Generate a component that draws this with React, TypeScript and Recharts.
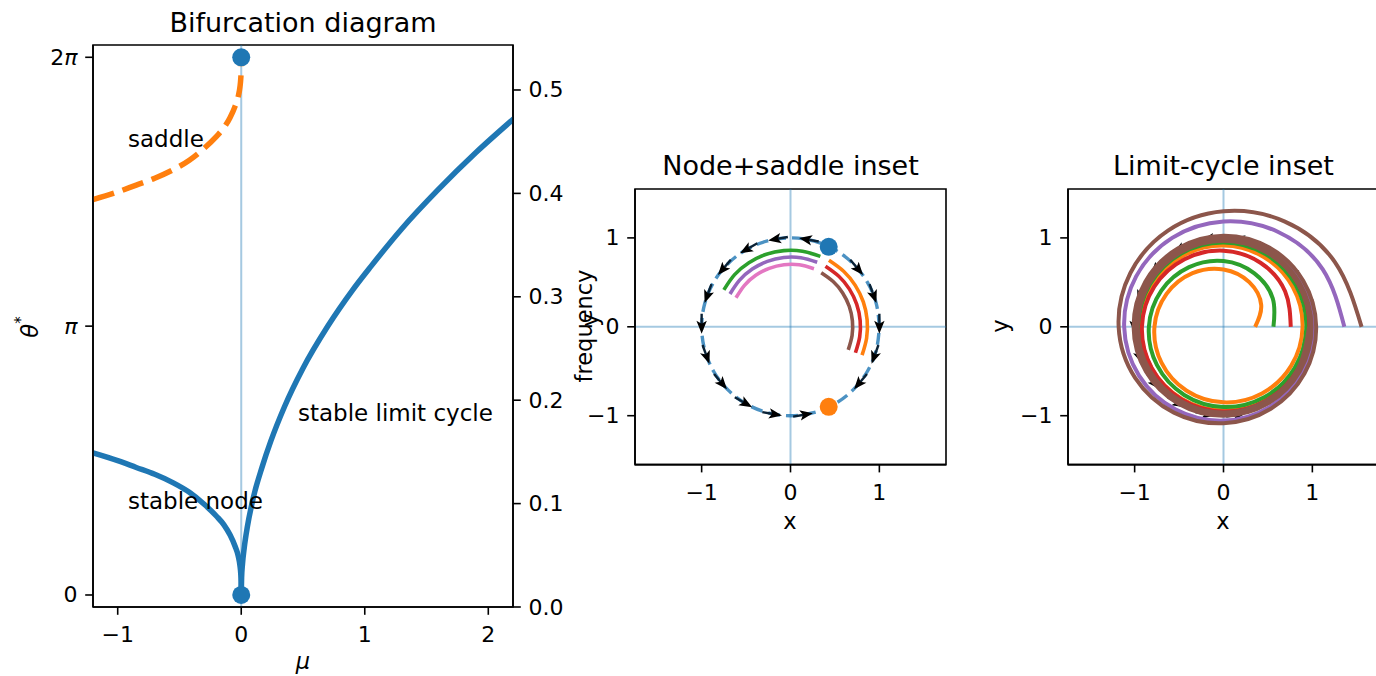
import React from 'react';
import { ComposedChart, Line, Scatter, XAxis, YAxis, ReferenceArea } from 'recharts';

const FONT = '"DejaVu Sans", Verdana, sans-serif';
const C0 = '#1f77b4';
const C1 = '#ff7f0e';
const C2 = '#2ca02c';
const C3 = '#d62728';
const C4 = '#9467bd';
const C5 = '#8c564b';
const C6 = '#e377c2';

// ---------------- Panel 1: bifurcation diagram ----------------
const muNode = [-1.2, -1.0, -0.85, -0.7, -0.55, -0.42, -0.3, -0.2, -0.14, -0.09, -0.05, -0.025, -0.01, -0.004, -0.001, 0];
const thetaNode = [1.66, 1.57, 1.49, 1.41, 1.31, 1.2, 1.06, 0.92, 0.82, 0.7, 0.57, 0.46, 0.34, 0.25, 0.16, 0];
const muSaddle = [-1.2, -1.0, -0.85, -0.7, -0.55, -0.42, -0.3, -0.2, -0.14, -0.09, -0.05, -0.025, -0.01, -0.004, -0.001, 0];
const thetaSaddle = [4.62, 4.71, 4.79, 4.87, 4.97, 5.08, 5.22, 5.36, 5.46, 5.58, 5.71, 5.82, 5.94, 6.03, 6.12, 6.28];
const muCycle = [0, 0.003, 0.01, 0.025, 0.05, 0.1, 0.17, 0.24, 0.35, 0.5, 0.7, 0.9, 1.05, 1.3, 1.59, 1.9, 2.21];
const thetaCycle = [0, 0.2, 0.36, 0.56, 0.8, 1.15, 1.5, 1.8, 2.2, 2.65, 3.14, 3.56, 3.84, 4.28, 4.73, 5.17, 5.57];
const muFixed = [0, 0];
const thetaFixed = [0, 2 * Math.PI];
const muZeroLine = [0, 0];
const thetaZeroLine = [-0.2, 6.5];

const muTicks = [-1, 0, 1, 2];
const thetaTicks = [0, Math.PI, 2 * Math.PI];
const thetaTickLabels = ['0', 'π', '2π'];
const freqTicks = [0, 0.1, 0.2, 0.3, 0.4, 0.5];

// ---------------- Panel 2: node + saddle inset (polar readings: [deg, r]) ----------------
const unitCirclePolar = [[0, 1], [15, 1], [30, 1], [45, 1], [60, 1], [75, 1], [90, 1], [105, 1], [120, 1], [135, 1], [150, 1], [165, 1], [180, 1], [195, 1], [210, 1], [225, 1], [240, 1], [255, 1], [270, 1], [285, 1], [300, 1], [315, 1], [330, 1], [345, 1], [360, 1]];
const greenArcPolar = [[67, 0.86], [81, 0.86], [95, 0.86], [109, 0.86], [123, 0.86], [137, 0.86], [151, 0.857]];
const purpleArcPolar = [[67.5, 0.785], [81.5, 0.785], [95.5, 0.783], [109.5, 0.781], [123.5, 0.779], [137.5, 0.777], [151.5, 0.775]];
const pinkArcPolar = [[68, 0.705], [82, 0.704], [96, 0.702], [110, 0.7], [124, 0.699], [138, 0.697], [152, 0.695]];
const orangeArcPolar = [[60, 0.865], [46.3, 0.865], [32.6, 0.865], [18.9, 0.866], [5.2, 0.866], [-8.5, 0.866], [-21.6, 0.866]];
const redArcPolar = [[60, 0.787], [46.3, 0.787], [32.6, 0.787], [18.9, 0.787], [5.2, 0.787], [-8.5, 0.787], [-21.8, 0.787]];
const brownArcPolar = [[60.4, 0.7], [46.7, 0.7], [33, 0.7], [19.3, 0.7], [5.6, 0.7], [-8.1, 0.7], [-21.8, 0.7]];
const fixedPtX = [0.43, 0.43];
const fixedPtY = [0.9, -0.9];
const arrowAngles = [0, 20, 40, 80, 100, 120, 140, 160, 180, 200, 220, 240, 260, 280, 320, 340];
const arrowSense2 = [-1, -1, -1, 1, 1, 1, 1, 1, 1, 1, 1, 1, 1, 1, -1, -1];
const arrowSense3 = [1, 1, 1, 1, 1, 1, 1, 1, 1, 1, 1, 1, 1, 1, 1, 1];

// ---------------- Panel 3: limit-cycle inset (polar readings every 30 deg: [deg, r]) ----------------
const orangeSpiral = [[0, 0.356], [30, 0.49], [60, 0.58], [90, 0.645], [120, 0.697], [150, 0.74], [180, 0.777], [210, 0.806], [240, 0.83], [270, 0.85], [300, 0.866], [330, 0.879], [360, 0.89], [390, 0.899], [420, 0.907], [450, 0.914], [480, 0.92], [510, 0.925], [540, 0.93], [570, 0.934], [600, 0.937], [630, 0.94], [660, 0.942], [690, 0.944], [720, 0.946]];
const greenSpiral = [[0, 0.562], [30, 0.64], [60, 0.695], [90, 0.74], [120, 0.775], [150, 0.81], [180, 0.84], [210, 0.864], [240, 0.885], [270, 0.902], [300, 0.915], [330, 0.925], [360, 0.933], [390, 0.939], [420, 0.944], [450, 0.948], [480, 0.952], [510, 0.955], [540, 0.957], [570, 0.959], [600, 0.96], [630, 0.961], [660, 0.962], [690, 0.963], [720, 0.963]];
const redSpiral = [[0, 0.757], [30, 0.8], [60, 0.832], [90, 0.856], [120, 0.877], [150, 0.9], [180, 0.918], [210, 0.932], [240, 0.943], [270, 0.952], [300, 0.959], [330, 0.964], [360, 0.968], [390, 0.971], [420, 0.973], [450, 0.974], [480, 0.975], [510, 0.976], [540, 0.976], [570, 0.977], [600, 0.977], [630, 0.977], [660, 0.978], [690, 0.978], [720, 0.978]];
const purpleSpiral = [[0, 1.36], [30, 1.29], [60, 1.232], [90, 1.185], [120, 1.155], [150, 1.135], [180, 1.118], [210, 1.098], [240, 1.075], [270, 1.055], [300, 1.04], [330, 1.03], [360, 1.022], [390, 1.015], [420, 1.01], [450, 1.005], [480, 1.001], [510, 0.998], [540, 0.995], [570, 0.993], [600, 0.991], [630, 0.99], [660, 0.989], [690, 0.988], [720, 0.987]];
const brownSpiral = [[0, 1.554], [30, 1.45], [60, 1.37], [90, 1.3], [120, 1.25], [150, 1.21], [180, 1.18], [210, 1.148], [240, 1.115], [270, 1.085], [300, 1.065], [330, 1.052], [360, 1.043], [390, 1.036], [420, 1.03], [450, 1.025], [480, 1.02], [510, 1.016], [540, 1.012], [570, 1.008], [600, 1.004], [630, 1.0], [660, 0.997], [690, 0.994], [720, 0.991], [750, 0.988], [780, 0.986], [810, 0.984], [840, 0.982], [870, 0.98], [900, 0.978], [930, 0.976], [960, 0.975], [990, 0.974], [1020, 0.973], [1050, 0.972], [1080, 0.971], [1110, 0.97], [1140, 0.969], [1170, 0.968], [1200, 0.967], [1230, 0.966], [1260, 0.965], [1290, 0.965], [1320, 0.964], [1350, 0.964], [1380, 0.963], [1410, 0.963], [1440, 0.963]];

const insetTicks = [-1, 0, 1];
const axisGuideH = [[-1.75, 0], [1.75, 0]];
const axisGuideV = [[0, -1.55], [0, 1.55]];

// ---------------- helpers ----------------
const pairs = (xs: number[], ys: number[]) => xs.map((x, i) => ({ x, y: ys[i] }));
const rad = (d: number) => (d * Math.PI) / 180;
const polar = (pts: number[][]) => pts.map(([d, r]) => ({ x: r * Math.cos(rad(d)), y: r * Math.sin(rad(d)) }));
const xy = (pts: number[][]) => pts.map(([x, y]) => ({ x, y }));
const arrows = (senses: number[]) =>
  arrowAngles.map((d, i) => ({ x: Math.cos(rad(d)), y: Math.sin(rad(d)), rot: -(d + 90 * senses[i]) }));

const minus = (v: number) => String(v).replace('-', '\u2212');
const TICK_FS = 22;

const BottomTick = (props: any) => {
  const { x, y, payload } = props;
  return (
    <text x={x} y={y + 12} textAnchor="middle" dominantBaseline="central" fill="#000" fontSize={TICK_FS} fontFamily={FONT}>
      {minus(payload.value)}
    </text>
  );
};
const LeftTick = (props: any) => {
  const { x, y, payload } = props;
  return (
    <text x={x} y={y} textAnchor="end" dominantBaseline="central" fill="#000" fontSize={TICK_FS} fontFamily={FONT}>
      {minus(payload.value)}
    </text>
  );
};
const FreqTick = (props: any) => {
  const { x, y, payload } = props;
  return (
    <text x={x} y={y} textAnchor="start" dominantBaseline="central" fill="#000" fontSize={TICK_FS} fontFamily={FONT}>
      {Number(payload.value).toFixed(1)}
    </text>
  );
};
const ThetaTick = (props: any) => {
  const { x, y, payload } = props;
  let idx = 0;
  thetaTicks.forEach((t, i) => {
    if (Math.abs(t - payload.value) < 1e-6) idx = i;
  });
  const label = thetaTickLabels[idx];
  const hasPi = label.includes('π');
  const num = label.replace('π', '');
  return (
    <text x={x} y={y} textAnchor="end" dominantBaseline="central" fill="#000" fontSize={TICK_FS} fontFamily={FONT}>
      {num}
      {hasPi ? <tspan fontStyle="italic">π</tspan> : null}
    </text>
  );
};

const tickLine = { stroke: '#000', strokeWidth: 1.6 };
const axisLine = { stroke: '#000', strokeWidth: 1.6 };

const ArrowShape = (props: any) => {
  const { cx, cy, payload } = props;
  if (cx == null || cy == null) return null;
  return (
    <g transform={`translate(${cx},${cy}) rotate(${payload.rot})`}>
      <line x1={-13} y1={0} x2={-2} y2={0} stroke="#0a2236" strokeWidth={2.4} />
      <path d="M 7 0 L -6 -5.2 L -3 0 L -6 5.2 Z" fill="#000" />
    </g>
  );
};

const DotShape = (color: string) => (props: any) => {
  const { cx, cy } = props;
  if (cx == null || cy == null) return null;
  return <circle cx={cx} cy={cy} r={9} fill={color} />;
};

const lineCommon = { dot: false, activeDot: false, isAnimationActive: false, legendType: 'none' as const };

const Bifurcation = () => (
  <ComposedChart width={600} height={676} margin={{ top: 45, right: 27, bottom: 39, left: 33 }}>
    <XAxis type="number" dataKey="x" domain={[-1.2, 2.2]} allowDataOverflow ticks={muTicks} tick={<BottomTick />} tickLine={tickLine} tickSize={7.8} tickMargin={7.8} axisLine={axisLine} height={30} />
    <YAxis yAxisId="theta" type="number" domain={[-0.1404, 6.4268]} allowDataOverflow ticks={thetaTicks} tick={<ThetaTick />} tickLine={tickLine} tickSize={7.8} tickMargin={7.8} axisLine={axisLine} width={60} />
    <YAxis yAxisId="freq" orientation="right" type="number" domain={[0, 0.5435]} allowDataOverflow ticks={freqTicks} tick={<FreqTick />} tickLine={tickLine} tickSize={7.8} tickMargin={7.8} axisLine={axisLine} width={60} />
    <Line yAxisId="theta" data={pairs(muZeroLine, thetaZeroLine)} dataKey="y" stroke={C0} strokeOpacity={0.4} strokeWidth={2} {...lineCommon} />
    <Line yAxisId="theta" data={pairs(muSaddle, thetaSaddle)} dataKey="y" type="monotone" stroke={C1} strokeWidth={5.5} strokeDasharray="22 9" {...lineCommon} />
    <Line yAxisId="theta" data={pairs(muNode, thetaNode)} dataKey="y" type="monotone" stroke={C0} strokeWidth={5.5} {...lineCommon} />
    <Line yAxisId="theta" data={pairs(muCycle, thetaCycle)} dataKey="y" type="monotone" stroke={C0} strokeWidth={5.5} {...lineCommon} />
    <Scatter yAxisId="theta" data={pairs(muFixed, thetaFixed)} dataKey="y" shape={DotShape(C0)} isAnimationActive={false} legendType="none" />
    <ReferenceArea yAxisId="theta" x1={-1.2} x2={2.2} y1={-0.1404} y2={6.4268} fill="none" stroke="#000" strokeWidth={1.6} ifOverflow="visible" />
  </ComposedChart>
);

const Inset = ({ kind }: { kind: 'node' | 'cycle' }) => (
  <ComposedChart width={400} height={400} margin={{ top: 39, right: 14, bottom: 55.4, left: 25 }}>
    <XAxis type="number" dataKey="x" domain={[-1.75, 1.75]} allowDataOverflow ticks={insetTicks} tick={<BottomTick />} tickLine={tickLine} tickSize={7.8} tickMargin={7.8} axisLine={axisLine} height={30} />
    <YAxis type="number" domain={[-1.55, 1.55]} allowDataOverflow ticks={insetTicks} tick={<LeftTick />} tickLine={tickLine} tickSize={7.8} tickMargin={7.8} axisLine={axisLine} width={50} />
    <Line data={xy(axisGuideH)} dataKey="y" stroke={C0} strokeOpacity={0.4} strokeWidth={2} {...lineCommon} />
    <Line data={xy(axisGuideV)} dataKey="y" stroke={C0} strokeOpacity={0.4} strokeWidth={2} {...lineCommon} />
    {kind === 'node' ? (
      <>
        <Line data={polar(unitCirclePolar)} dataKey="y" type="natural" stroke={C0} strokeOpacity={0.8} strokeWidth={3.4} strokeDasharray="12 6" {...lineCommon} />
        <Scatter data={arrows(arrowSense2)} dataKey="y" shape={ArrowShape} isAnimationActive={false} legendType="none" />
        <Line data={polar(orangeArcPolar)} dataKey="y" type="natural" stroke={C1} strokeWidth={3.6} {...lineCommon} />
        <Line data={polar(greenArcPolar)} dataKey="y" type="natural" stroke={C2} strokeWidth={3.6} {...lineCommon} />
        <Line data={polar(redArcPolar)} dataKey="y" type="natural" stroke={C3} strokeWidth={3.6} {...lineCommon} />
        <Line data={polar(purpleArcPolar)} dataKey="y" type="natural" stroke={C4} strokeWidth={3.6} {...lineCommon} />
        <Line data={polar(brownArcPolar)} dataKey="y" type="natural" stroke={C5} strokeWidth={3.6} {...lineCommon} />
        <Line data={polar(pinkArcPolar)} dataKey="y" type="natural" stroke={C6} strokeWidth={3.6} {...lineCommon} />
        <Scatter data={pairs([fixedPtX[0]], [fixedPtY[0]])} dataKey="y" shape={DotShape(C0)} isAnimationActive={false} legendType="none" />
        <Scatter data={pairs([fixedPtX[1]], [fixedPtY[1]])} dataKey="y" shape={DotShape(C1)} isAnimationActive={false} legendType="none" />
      </>
    ) : (
      <>
        <Scatter data={arrows(arrowSense3)} dataKey="y" shape={ArrowShape} isAnimationActive={false} legendType="none" zIndex={0} />
        <Line data={polar(orangeSpiral)} dataKey="y" type="natural" stroke={C1} strokeWidth={4} {...lineCommon} />
        <Line data={polar(greenSpiral)} dataKey="y" type="natural" stroke={C2} strokeWidth={4} {...lineCommon} />
        <Line data={polar(redSpiral)} dataKey="y" type="natural" stroke={C3} strokeWidth={4} {...lineCommon} />
        <Line data={polar(purpleSpiral)} dataKey="y" type="natural" stroke={C4} strokeWidth={4} {...lineCommon} />
        <Line data={polar(brownSpiral)} dataKey="y" type="natural" stroke={C5} strokeWidth={4} {...lineCommon} />
      </>
    )}
    <ReferenceArea x1={-1.75} x2={1.75} y1={-1.55} y2={1.55} fill="none" stroke="#000" strokeWidth={1.6} ifOverflow="visible" />
  </ComposedChart>
);

const Labels = () => (
  <svg width={1376} height={676} style={{ position: 'absolute', left: 0, top: 0, pointerEvents: 'none' }} fontFamily={FONT}>
    <text x={303} y={22} fontSize={27} textAnchor="middle" dominantBaseline="central">Bifurcation diagram</text>
    <text x={790.5} y={165} fontSize={27} textAnchor="middle" dominantBaseline="central">Node+saddle inset</text>
    <text x={1223.5} y={165} fontSize={27} textAnchor="middle" dominantBaseline="central">Limit-cycle inset</text>
    <text x={303} y={661} fontSize={22.5} textAnchor="middle" dominantBaseline="central" fontStyle="italic">μ</text>
    <text transform="translate(30,327) rotate(-90)" fontSize={22.5} textAnchor="middle" dominantBaseline="central">
      <tspan fontStyle="italic">θ</tspan>
      <tspan dy={-9} fontSize={15}>*</tspan>
    </text>
    <text transform="translate(584,326) rotate(-90)" fontSize={22.5} textAnchor="middle" dominantBaseline="central">frequency</text>
    <text transform="translate(590,320) rotate(-90)" fontSize={22.5} textAnchor="middle" dominantBaseline="central">y</text>
    <text transform="translate(1000,326) rotate(-90)" fontSize={22.5} textAnchor="middle" dominantBaseline="central">y</text>
    <text x={790} y={521} fontSize={22.5} textAnchor="middle" dominantBaseline="central">x</text>
    <text x={1223} y={521} fontSize={22.5} textAnchor="middle" dominantBaseline="central">x</text>
    <text x={128} y={139} fontSize={23} dominantBaseline="central">saddle</text>
    <text x={128} y={501} fontSize={23} dominantBaseline="central">stable node</text>
    <text x={298} y={413} fontSize={23} dominantBaseline="central">stable limit cycle</text>
  </svg>
);

export default function App() {
  return (
    <div style={{ position: 'absolute', left: 0, top: 0, width: 1376, height: 676, overflow: 'hidden', background: '#fff', fontFamily: FONT }}>
      <div style={{ position: 'absolute', left: 0, top: 0 }}>
        <Bifurcation />
      </div>
      <div style={{ position: 'absolute', left: 560, top: 150 }}>
        <Inset kind="node" />
      </div>
      <div style={{ position: 'absolute', left: 993.3, top: 150 }}>
        <Inset kind="cycle" />
      </div>
      <Labels />
    </div>
  );
}
